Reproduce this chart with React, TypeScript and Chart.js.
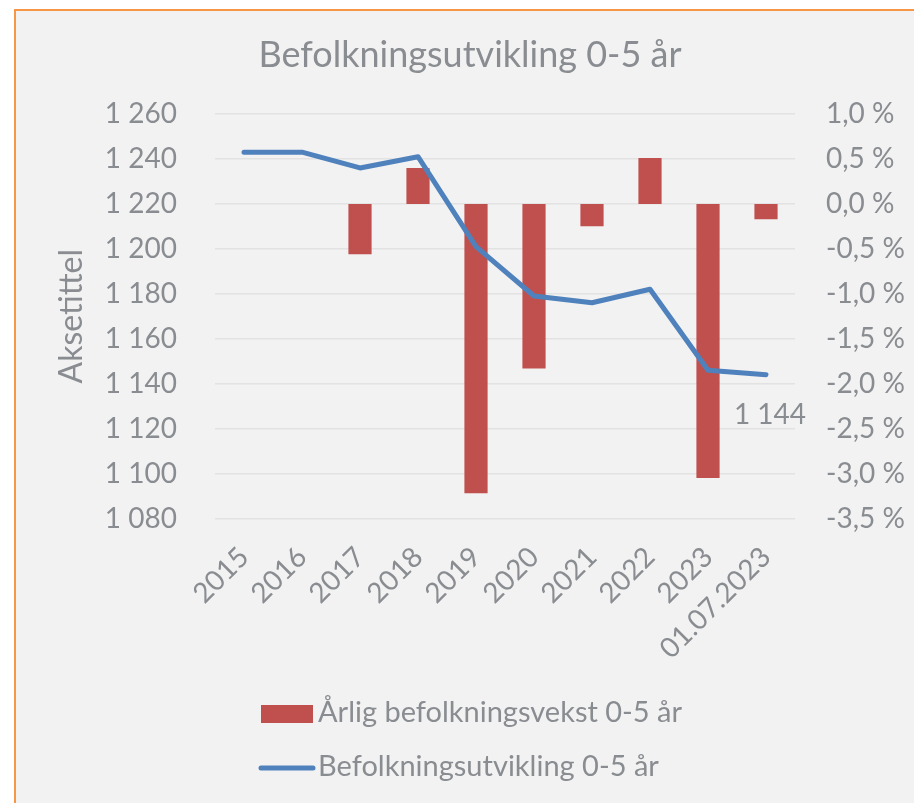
import React, { useEffect, useRef } from 'react';
import { Chart, registerables } from 'chart.js';

Chart.register(...registerables);

const categories = ['2015', '2016', '2017', '2018', '2019', '2020', '2021', '2022', '2023', '01.07.2023'];
const populationValues = [1243, 1243, 1236, 1241, 1201, 1179, 1176, 1182, 1146, 1144];
const growthValues = [null, 0, -0.56, 0.4, -3.22, -1.83, -0.25, 0.51, -3.05, -0.17];
const barLabel = 'Årlig befolkningsvekst 0-5 år';
const lineLabel = 'Befolkningsutvikling 0-5 år';
const chartTitle = 'Befolkningsutvikling 0-5 år';
const axisTitle = 'Aksetittel';
const leftAxis = { min: 1080, max: 1260, step: 20 };
const rightAxis = { min: -3.5, max: 1.0, step: 0.5 };

const FONT = 'Lato, "Open Sans", sans-serif';
const TEXT = '#898c90';
const BAR_COLOR = '#c0504d';
const LINE_COLOR = '#4f81bd';

const fmtThousands = (v: number) =>
  String(Math.round(v)).replace(/\B(?=(\d{3})+(?!\d))/g, ' ');
const fmtPct = (v: number) => {
  const r = Math.round(v * 10) / 10;
  return (r === 0 ? 0 : r).toFixed(1).replace('.', ',') + ' %';
};

const overlayPlugin = {
  id: 'overlay',
  afterDraw(chart: any) {
    const ctx = chart.ctx;
    ctx.save();
    // data label on last line point
    const lineMeta = chart.getDatasetMeta(1);
    const last = lineMeta.data[lineMeta.data.length - 1];
    const lastVal = populationValues[populationValues.length - 1];
    ctx.font = `28px ${FONT}`;
    ctx.fillStyle = TEXT;
    ctx.textAlign = 'center';
    ctx.textBaseline = 'middle';
    ctx.fillText(fmtThousands(lastVal), last.x + 4, last.y + 40);

    // legend
    const ds = chart.data.datasets;
    ctx.font = `29px ${FONT}`;
    ctx.textAlign = 'left';
    ctx.fillStyle = ds[0].backgroundColor;
    ctx.fillRect(261, 705, 52, 18);
    ctx.fillStyle = TEXT;
    ctx.fillText(ds[0].label, 318, 713);

    ctx.strokeStyle = ds[1].borderColor;
    ctx.lineWidth = 5;
    ctx.lineCap = 'round';
    ctx.beginPath();
    ctx.moveTo(261, 768);
    ctx.lineTo(313, 768);
    ctx.stroke();
    ctx.fillText(ds[1].label, 318, 767);
    ctx.restore();
  },
};

export default function App() {
  const ref = useRef<HTMLCanvasElement | null>(null);

  useEffect(() => {
    if (!ref.current) return;
    const chart = new Chart(ref.current, {
      type: 'bar',
      data: {
        labels: categories,
        datasets: [
          {
            type: 'bar',
            label: barLabel,
            data: growthValues as any,
            backgroundColor: BAR_COLOR,
            yAxisID: 'y1',
            barPercentage: 0.4,
            categoryPercentage: 1.0,
            order: 1,
          },
          {
            type: 'line',
            label: lineLabel,
            data: populationValues,
            borderColor: LINE_COLOR,
            backgroundColor: LINE_COLOR,
            borderWidth: 5,
            pointRadius: 0,
            tension: 0,
            borderCapStyle: 'round',
            borderJoinStyle: 'round',
            yAxisID: 'y',
            order: 0,
          } as any,
        ],
      },
      options: {
        responsive: false,
        animation: false,
        layout: { padding: { left: 26, right: 0, top: 0, bottom: 0 } },
        plugins: {
          legend: { display: false },
          tooltip: { enabled: false },
          title: {
            display: true,
            text: chartTitle,
            color: TEXT,
            font: { family: FONT, size: 36, weight: 'normal', lineHeight: 1.2 },
            padding: { top: 33.4, bottom: 37.4 },
          },
        },
        scales: {
          x: {
            grid: { display: false },
            border: { display: false },
            ticks: {
              color: TEXT,
              font: { family: FONT, size: 28 },
              maxRotation: 45,
              minRotation: 45,
              autoSkip: false,
              padding: 14,
            },
            afterFit: (s: any) => {
              s.height = 284.5;
            },
          },
          y: {
            position: 'left',
            min: leftAxis.min,
            max: leftAxis.max,
            grid: { color: '#e2e2e2', lineWidth: 1.5, drawTicks: false },
            border: { display: false },
            ticks: {
              stepSize: leftAxis.step,
              color: TEXT,
              font: { family: FONT, size: 28 },
              padding: 38,
              callback: (v: any) => fmtThousands(Number(v)),
            },
            title: {
              display: true,
              text: axisTitle,
              color: TEXT,
              font: { family: FONT, size: 32, weight: 'normal', lineHeight: 1.2 },
              padding: { top: 26.8, bottom: 0 },
            },
            afterFit: (s: any) => {
              s.width = 189;
            },
          },
          y1: {
            position: 'right',
            min: rightAxis.min,
            max: rightAxis.max,
            grid: { display: false, drawTicks: false },
            border: { display: false },
            ticks: {
              stepSize: rightAxis.step,
              color: TEXT,
              font: { family: FONT, size: 28 },
              padding: 31,
              callback: (v: any) => fmtPct(Number(v)),
            },
            afterFit: (s: any) => {
              s.width = 119;
            },
          },
        },
      },
      plugins: [overlayPlugin],
    } as any);
    return () => chart.destroy();
  }, []);

  return (
    <div
      style={{
        position: 'absolute',
        left: 0,
        top: 0,
        width: 914,
        height: 803,
        overflow: 'hidden',
        background: '#ffffff',
      }}
    >
      <div
        style={{
          position: 'absolute',
          left: 14,
          top: 9,
          width: 940,
          height: 840,
          boxSizing: 'border-box',
          border: '2px solid #f79646',
          background: '#f2f2f2',
        }}
      />
      <canvas
        ref={ref}
        width={914}
        height={803}
        style={{ position: 'absolute', left: 0, top: 0, width: 914, height: 803 }}
      />
    </div>
  );
}
